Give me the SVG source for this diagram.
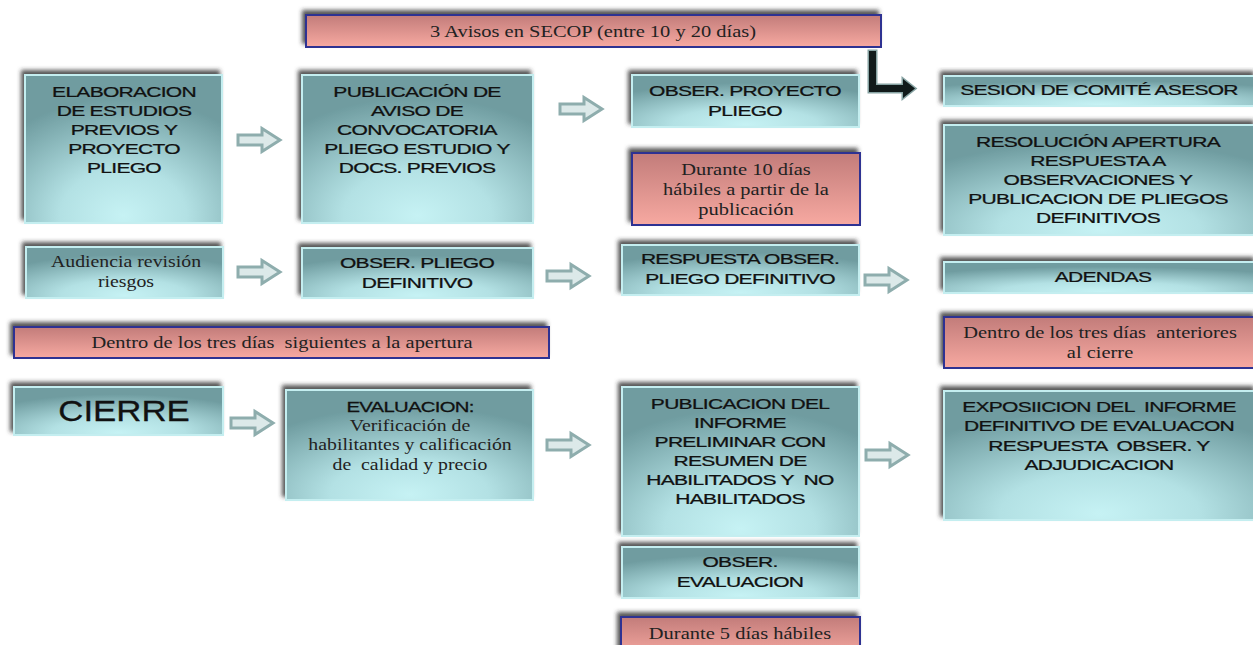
<svg xmlns="http://www.w3.org/2000/svg" width="1253" height="645" viewBox="0 0 1253 645">
<defs>
  <radialGradient id="teal" cx="0.5" cy="0.95" r="0.8" fx="0.5" fy="0.95">
    <stop offset="0" stop-color="#c6f2f4"/>
    <stop offset="0.4" stop-color="#b3e1e4"/>
    <stop offset="1" stop-color="#6f9ca0"/>
  </radialGradient>
  <linearGradient id="pink" x1="0" y1="0" x2="0" y2="1">
    <stop offset="0" stop-color="#c27c7a"/>
    <stop offset="1" stop-color="#f7a9a1"/>
  </linearGradient>
  <filter id="sh" x="-10%" y="-30%" width="120%" height="160%">
    <feDropShadow dx="-3" dy="-4" stdDeviation="2.2" flood-color="#2a2a2a" flood-opacity="0.8"/>
  </filter>
  <path id="arr" d="M0,-5 H24 V-11.5 L42,0 L24,11.5 V5 H0 Z"/>
  <style>
    .tb { fill: url(#teal); stroke: #c4eef0; stroke-width: 2; filter: url(#sh); }
    .pb { fill: url(#pink); stroke: #2e3192; stroke-width: 2; filter: url(#sh); }
    .s { font-family: "Liberation Sans", Arial, sans-serif; font-size: 14.5px; letter-spacing: -0.5px; fill: #111; stroke: #111; stroke-width: 0.25; text-anchor: middle; white-space: pre; }
    .r { font-family: "Liberation Serif", "Times New Roman", serif; font-size: 16.5px; fill: #222; text-anchor: middle; white-space: pre; }
    .big { font-family: "Liberation Sans", Arial, sans-serif; font-size: 29px; fill: #111; stroke: #111; stroke-width: 0.3; text-anchor: middle; }
    .ar { fill: #dce9e9; stroke: #8eadad; stroke-width: 3; stroke-linejoin: miter; }
    .elb { fill: #111a1a; stroke: #86a2a2; stroke-width: 3; paint-order: stroke; }
  </style>
</defs>
<rect width="1253" height="645" fill="#ffffff"/>

<g id="connectors">
  <use href="#arr" class="ar" transform="translate(238 140)"/>
  <use href="#arr" class="ar" transform="translate(560 109)"/>
  <use href="#arr" class="ar" transform="translate(238 272)"/>
  <use href="#arr" class="ar" transform="translate(547 276)"/>
  <use href="#arr" class="ar" transform="translate(865 280)"/>
  <use href="#arr" class="ar" transform="translate(231 423)"/>
  <use href="#arr" class="ar" transform="translate(547 445)"/>
  <use href="#arr" class="ar" transform="translate(866 455)"/>
  <path class="elb" d="M869,51 H876 V85 H903 V79 L915,88.5 L903,98 V92 H869 Z"/>
</g>

<g id="avisos">
  <rect class="pb" x="306" y="15" width="575" height="32"/>
  <g transform="translate(593 0) scale(1.24 1)"><text class="r" x="0" y="37">3 Avisos en SECOP (entre 10 y 20 días)</text></g>
</g>

<g id="elaboracion">
  <rect class="tb" x="25" y="75" width="197" height="148"/>
  <g transform="translate(124 0) scale(1.45 1)">
    <text class="s" x="0" y="97">ELABORACION</text>
    <text class="s" x="0" y="116">DE ESTUDIOS</text>
    <text class="s" x="0" y="135">PREVIOS Y</text>
    <text class="s" x="0" y="154">PROYECTO</text>
    <text class="s" x="0" y="173">PLIEGO</text>
  </g>
</g>

<g id="publicacion">
  <rect class="tb" x="302" y="75" width="231" height="148"/>
  <g transform="translate(417 0) scale(1.45 1)">
    <text class="s" x="0" y="97">PUBLICACIÓN DE</text>
    <text class="s" x="0" y="116">AVISO DE</text>
    <text class="s" x="0" y="135">CONVOCATORIA</text>
    <text class="s" x="0" y="154">PLIEGO ESTUDIO Y</text>
    <text class="s" x="0" y="173">DOCS. PREVIOS</text>
  </g>
</g>

<g id="obser-proyecto">
  <rect class="tb" x="632" y="75" width="227" height="52"/>
  <g transform="translate(745 0) scale(1.45 1)">
    <text class="s" x="0" y="96">OBSER. PROYECTO</text>
    <text class="s" x="0" y="116">PLIEGO</text>
  </g>
</g>

<g id="durante10">
  <rect class="pb" x="632" y="153" width="228" height="72"/>
  <g transform="translate(746 0) scale(1.24 1)">
    <text class="r" x="0" y="175">Durante 10 días</text>
    <text class="r" x="0" y="195">hábiles a partir de la</text>
    <text class="r" x="0" y="215">publicación</text>
  </g>
</g>

<g id="sesion">
  <rect class="tb" x="944" y="76" width="312" height="30"/>
  <g transform="translate(1099 0) scale(1.45 1)"><text class="s" x="0" y="95">SESION DE COMITÉ ASESOR</text></g>
</g>

<g id="resolucion">
  <rect class="tb" x="944" y="125" width="312" height="110"/>
  <g transform="translate(1098 0) scale(1.45 1)">
    <text class="s" x="0" y="147">RESOLUCIÓN APERTURA</text>
    <text class="s" x="0" y="166">RESPUESTA A</text>
    <text class="s" x="0" y="185">OBSERVACIONES Y</text>
    <text class="s" x="0" y="204">PUBLICACION DE PLIEGOS</text>
    <text class="s" x="0" y="223">DEFINITIVOS</text>
  </g>
</g>

<g id="audiencia">
  <rect class="tb" x="26" y="247" width="197" height="51"/>
  <g transform="translate(126 0) scale(1.2 1)">
    <text class="r" x="0" y="267">Audiencia revisión</text>
    <text class="r" x="0" y="287">riesgos</text>
  </g>
</g>

<g id="obser-pliego-def">
  <rect class="tb" x="302" y="248" width="231" height="50"/>
  <g transform="translate(417 0) scale(1.45 1)">
    <text class="s" x="0" y="268">OBSER. PLIEGO</text>
    <text class="s" x="0" y="288">DEFINITIVO</text>
  </g>
</g>

<g id="respuesta">
  <rect class="tb" x="622" y="245" width="237" height="50"/>
  <g transform="translate(740 0) scale(1.45 1)">
    <text class="s" x="0" y="264">RESPUESTA OBSER.</text>
    <text class="s" x="0" y="284">PLIEGO DEFINITIVO</text>
  </g>
</g>

<g id="adendas">
  <rect class="tb" x="944" y="262" width="312" height="31"/>
  <g transform="translate(1103 0) scale(1.45 1)"><text class="s" x="0" y="282">ADENDAS</text></g>
</g>

<g id="dentro-siguientes">
  <rect class="pb" x="14" y="327" width="535" height="31"/>
  <g transform="translate(282 0) scale(1.24 1)"><text class="r" x="0" y="348">Dentro de los tres días  siguientes a la apertura</text></g>
</g>

<g id="dentro-anteriores">
  <rect class="pb" x="944" y="317" width="312" height="51"/>
  <g transform="translate(1100 0) scale(1.24 1)">
    <text class="r" x="0" y="338">Dentro de los tres días  anteriores</text>
    <text class="r" x="0" y="358">al cierre</text>
  </g>
</g>

<g id="cierre">
  <rect class="tb" x="14" y="387" width="209" height="48"/>
  <g transform="translate(124 0) scale(1.2 1)"><text class="big" x="0" y="421">CIERRE</text></g>
</g>

<g id="evaluacion">
  <rect class="tb" x="286" y="390" width="247" height="110"/>
  <g transform="translate(410 0) scale(1.4 1)"><text class="s" x="0" y="412">EVALUACION:</text></g>
  <g transform="translate(410 0) scale(1.2 1)">
    <text class="r" x="0" y="431">Verificación de</text>
    <text class="r" x="0" y="450">habilitantes y calificación</text>
    <text class="r" x="0" y="470">de  calidad y precio</text>
  </g>
</g>

<g id="informe-preliminar">
  <rect class="tb" x="622" y="387" width="237" height="149"/>
  <g transform="translate(740 0) scale(1.45 1)">
    <text class="s" x="0" y="409">PUBLICACION DEL</text>
    <text class="s" x="0" y="428">INFORME</text>
    <text class="s" x="0" y="447">PRELIMINAR CON</text>
    <text class="s" x="0" y="466">RESUMEN DE</text>
    <text class="s" x="0" y="485">HABILITADOS Y  NO</text>
    <text class="s" x="0" y="504">HABILITADOS</text>
  </g>
</g>

<g id="exposicion">
  <rect class="tb" x="944" y="391" width="312" height="129"/>
  <g transform="translate(1099 0) scale(1.45 1)">
    <text class="s" x="0" y="412">EXPOSIICION DEL  INFORME</text>
    <text class="s" x="0" y="431">DEFINITIVO DE EVALUACON</text>
    <text class="s" x="0" y="451">RESPUESTA  OBSER. Y</text>
    <text class="s" x="0" y="470">ADJUDICACION</text>
  </g>
</g>

<g id="obser-evaluacion">
  <rect class="tb" x="622" y="547" width="237" height="51"/>
  <g transform="translate(740 0) scale(1.45 1)">
    <text class="s" x="0" y="567">OBSER.</text>
    <text class="s" x="0" y="587">EVALUACION</text>
  </g>
</g>

<g id="durante5">
  <rect class="pb" x="621" y="617" width="239" height="40"/>
  <g transform="translate(740 0) scale(1.24 1)"><text class="r" x="0" y="639">Durante 5 días hábiles</text></g>
</g>
</svg>
